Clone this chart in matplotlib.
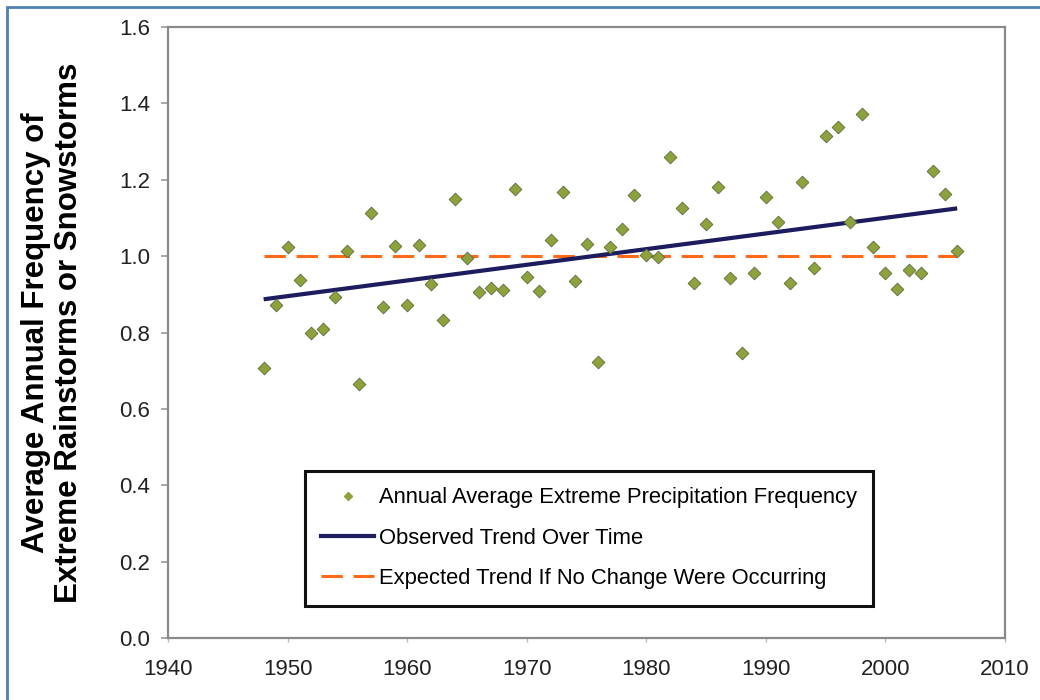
import matplotlib
matplotlib.use("Agg")
import matplotlib.pyplot as plt
from matplotlib.patches import Rectangle
from matplotlib.lines import Line2D

years = list(range(1948, 2007))
frequency = [0.706, 0.871, 1.024, 0.937, 0.800, 0.810, 0.893, 1.013, 0.666, 1.112,
             0.867, 1.027, 0.872, 1.030, 0.927, 0.832, 1.150, 0.995, 0.907, 0.917,
             0.911, 1.177, 0.946, 0.909, 1.041, 1.167, 0.935, 1.031, 0.722, 1.024,
             1.071, 1.161, 1.004, 0.997, 1.260, 1.125, 0.930, 1.085, 1.181, 0.943,
             0.746, 0.957, 1.155, 1.089, 0.930, 1.194, 0.970, 1.314, 1.337, 1.089,
             1.372, 1.024, 0.957, 0.915, 0.963, 0.955, 1.224, 1.163, 1.014]
trend_years = [1948, 2006]
trend_values = [0.887, 1.125]
expected_years = [1948, 2006]
expected_values = [1.0, 1.0]

labels = ["Annual Average Extreme Precipitation Frequency",
          "Observed Trend Over Time",
          "Expected Trend If No Change Were Occurring"]
ylabel = "Average Annual Frequency of\nExtreme Rainstorms or Snowstorms"

plt.rcParams['font.family'] = ['Liberation Sans', 'DejaVu Sans']

fig = plt.figure(figsize=(10.4, 7), dpi=100)
fig.patch.set_facecolor('white')
# figure frame (left/top edges visible)
fig.patches.append(Rectangle((7/1040, -0.05), 1.2, 1 - 7/700 + 0.05, transform=fig.transFigure,
                             fill=False, edgecolor='#4f81b3', linewidth=2.0))

ax = fig.add_axes([168/1040, 1 - 638/700, (1005 - 168)/1040, (638 - 27)/700])

ax.plot(expected_years, expected_values, color='#ff6a1a', linewidth=2.2,
        dashes=(7, 3.5), zorder=2)
ax.plot(trend_years, trend_values, color='#1c1c5e', linewidth=3.0,
        solid_capstyle='butt', zorder=3)
ax.scatter(years, frequency, marker='D', s=42, color='#8da23c',
           edgecolor='#5c6a3a', linewidth=0.6, zorder=4)

ax.set_xlim(1940, 2010)
ax.set_ylim(0, 1.6)
ax.set_xticks(range(1940, 2011, 10))
ax.set_yticks([0.0, 0.2, 0.4, 0.6, 0.8, 1.0, 1.2, 1.4, 1.6])
ax.set_yticklabels([f"{v:.1f}" for v in ax.get_yticks()])
ax.tick_params(axis='both', labelsize=16, colors='#222222')
ax.tick_params(axis='y', color='#999999', length=5, width=1.2, direction='out', pad=8)
ax.tick_params(axis='x', color='#bbbbbb', length=3, width=1.0, direction='out', pad=12)
for sp in ax.spines.values():
    sp.set_color('#8a8a8a')
    sp.set_linewidth(1.6)

ax.set_ylabel(ylabel, fontsize=22.5, fontweight='bold', labelpad=25, linespacing=1.15)

handles = [
    Line2D([], [], marker='D', linestyle='none', markersize=4.5,
           markerfacecolor='#8da23c', markeredgecolor='#8da23c'),
    Line2D([], [], color='#1c1c5e', linewidth=3.0),
    Line2D([], [], color='#ff6a1a', linewidth=2.2, dashes=(7, 3.5)),
]
leg = ax.legend(handles, labels, loc='upper left',
                bbox_to_anchor=((305 - 168)/837, (638 - 471)/611),
                fontsize=15.8, frameon=True, fancybox=False, shadow=False,
                handlelength=2.4, handletextpad=0.2, labelspacing=0.88,
                borderpad=0.75, borderaxespad=0)
fr = leg.get_frame()
fr.set_edgecolor('#111111')
fr.set_linewidth(2.2)
fr.set_facecolor('white')
fr.set_alpha(1)

fig.savefig("out.png", dpi=100)
